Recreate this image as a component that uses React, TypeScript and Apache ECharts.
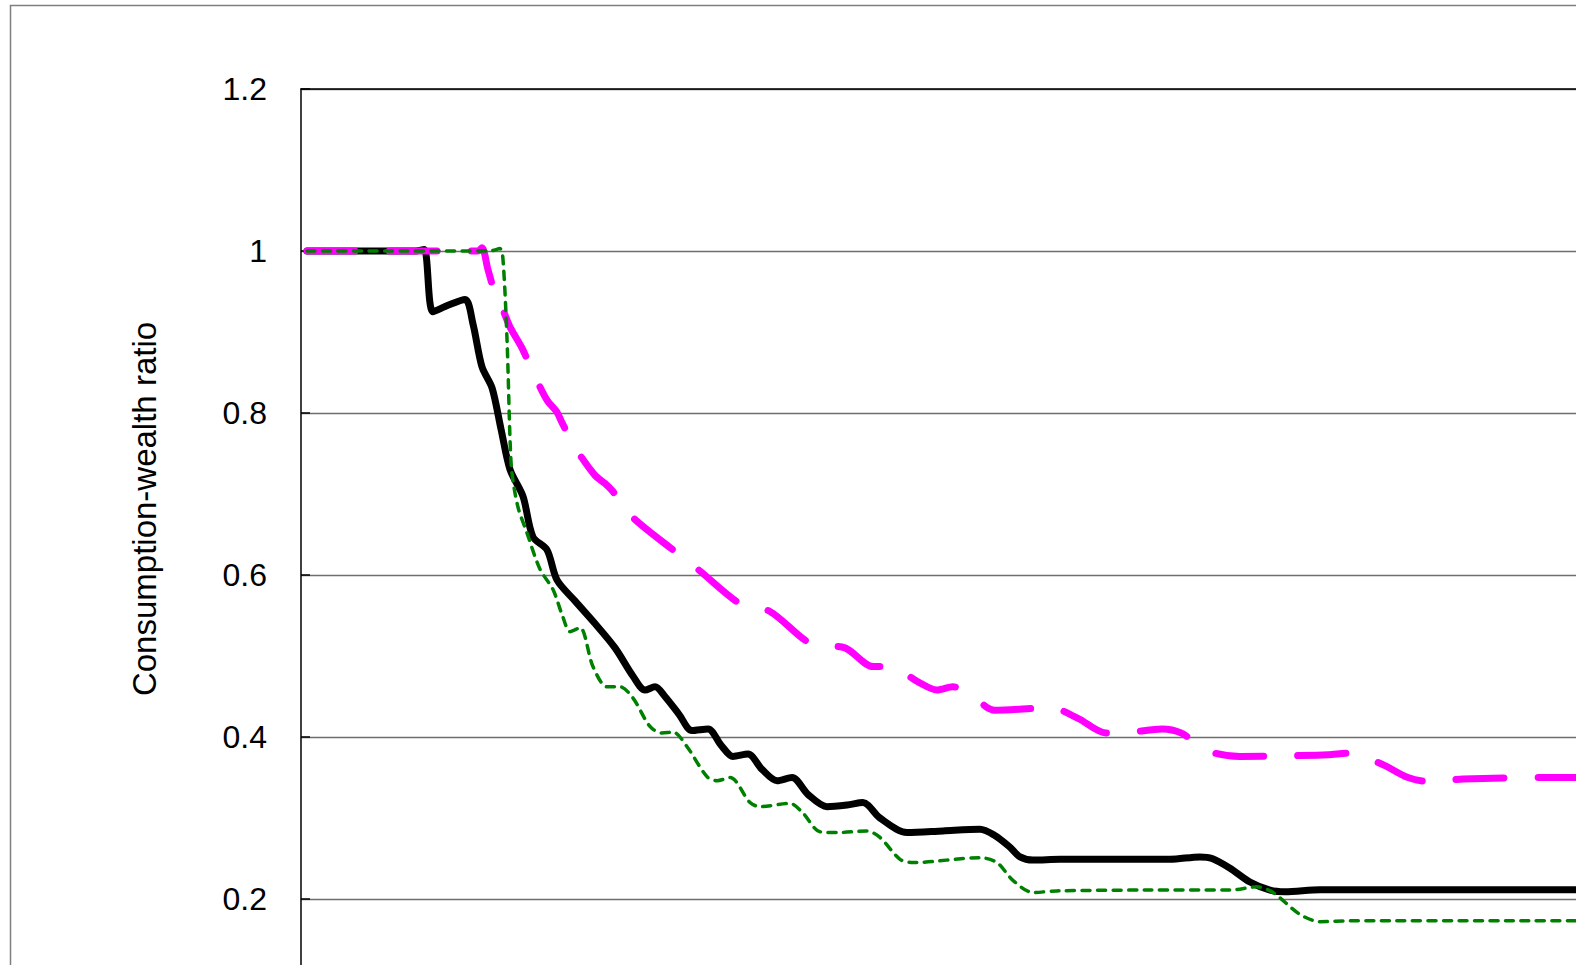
import React, { useEffect, useRef } from "react";
import * as echarts from "echarts";

// Period index (horizontal position) and consumption-wealth ratio for each curve
const solidT = [0, 5, 9, 9.75, 10.5, 11.75, 13.17, 13.83, 14.58, 15.42, 16.17, 16.92, 18.0, 18.83, 20.0, 20.83, 22.33, 24.0, 25.67, 27.17, 28.17, 29.0, 29.83, 31.0, 32.08, 33.42, 34.5, 35.5, 36.75, 37.92, 39.17, 40.42, 41.75, 43.33, 45.0, 46.33, 47.75, 50.0, 53.0, 56.08, 57.25, 58.5, 59.42, 60.5, 62.75, 66.08, 71.92, 74.42, 75.42, 76.92, 78.58, 80.25, 81.5, 84.42, 95, 112];
const solidRatio = [1.0, 1.0, 1.0, 1.002, 0.925, 0.933, 0.94, 0.91, 0.857, 0.831, 0.78, 0.73, 0.697, 0.647, 0.631, 0.594, 0.568, 0.54, 0.51, 0.475, 0.458, 0.462, 0.45, 0.428, 0.408, 0.41, 0.39, 0.376, 0.379, 0.36, 0.346, 0.35, 0.329, 0.314, 0.316, 0.319, 0.3, 0.282, 0.284, 0.286, 0.279, 0.265, 0.252, 0.248, 0.249, 0.249, 0.249, 0.252, 0.25, 0.238, 0.221, 0.211, 0.209, 0.2115, 0.2115, 0.2115];

const longDashT = [0, 7, 14.25, 14.58, 15.08, 15.83, 16.33, 16.92, 17.92, 19.0, 20.0, 20.83, 21.25, 22.58, 24.0, 24.83, 25.5, 27.08, 30.67, 32.58, 36.25, 38.58, 42.17, 44.83, 47.17, 48.58, 50.92, 52.5, 53.83, 55.25, 57.33, 62.0, 64.25, 66.58, 68.67, 71.25, 72.83, 75.25, 77.75, 82.42, 85.08, 86.83, 89.5, 91.75, 93.58, 96.33, 103.58, 112];
const longDashRatio = [1.0, 1.0, 1.0, 1.004, 0.977, 0.94, 0.927, 0.906, 0.88, 0.845, 0.816, 0.801, 0.788, 0.752, 0.723, 0.713, 0.703, 0.672, 0.629, 0.607, 0.563, 0.555, 0.514, 0.51, 0.487, 0.487, 0.468, 0.458, 0.462, 0.453, 0.433, 0.436, 0.423, 0.405, 0.406, 0.41, 0.405, 0.382, 0.376, 0.377, 0.378, 0.38, 0.367, 0.35, 0.345, 0.348, 0.35, 0.35];

const shortDashT = [0, 8, 15.25, 16.08, 16.33, 16.67, 16.92, 17.08, 17.58, 18.33, 19.42, 20.5, 21.33, 21.92, 22.75, 23.83, 25.0, 26.08, 27.17, 28.58, 29.58, 30.5, 31.67, 33.33, 34.17, 35.25, 36.92, 37.75, 40.25, 41.33, 42.75, 44.17, 46.67, 47.75, 49.42, 50.5, 56.08, 57.5, 58.83, 60.5, 62.5, 70, 76.92, 79.17, 80.5, 82.75, 84.42, 86.92, 100, 112];
const shortDashRatio = [1.0, 1.0, 1.0, 1.003, 0.99, 0.89, 0.767, 0.726, 0.684, 0.652, 0.607, 0.582, 0.548, 0.53, 0.535, 0.487, 0.462, 0.462, 0.448, 0.413, 0.405, 0.406, 0.388, 0.351, 0.346, 0.35, 0.319, 0.314, 0.318, 0.306, 0.283, 0.282, 0.284, 0.276, 0.249, 0.245, 0.251, 0.245, 0.223, 0.208, 0.21, 0.211, 0.211, 0.215, 0.208, 0.181, 0.172, 0.173, 0.173, 0.173];

const yTickMin = 0;
const yTickMax = 1.2;
const yTickStep = 0.2;
const yTitle = "Consumption-wealth ratio";

const pairs = (t: number[], v: number[]) => t.map((x, i) => [x, v[i]]);

const FONT = "'Liberation Sans', Arial, sans-serif";

export default function App() {
  const ref = useRef<HTMLDivElement>(null);

  useEffect(() => {
    document.body.style.margin = "0";
    document.body.style.overflow = "hidden";
    if (!ref.current) return;
    const chart = echarts.init(ref.current, undefined, { renderer: "svg" });
    chart.setOption({
      animation: false,
      backgroundColor: "#ffffff",
      grid: { left: 301, top: 89, width: 1416, height: 972 },
      xAxis: {
        type: "value",
        min: -0.5,
        max: 117.5,
        position: "top",
        axisLine: { show: true, onZero: false, lineStyle: { color: "#000", width: 1.5 } },
        axisTick: { show: false },
        axisLabel: { show: false },
        splitLine: { show: false },
      },
      yAxis: {
        type: "value",
        min: yTickMin,
        max: yTickMax,
        interval: yTickStep,
        axisLine: { show: true, onZero: false, lineStyle: { color: "#000", width: 1.5 } },
        axisTick: { show: true, inside: true, length: 9, lineStyle: { color: "#000", width: 1.5 } },
        axisLabel: { color: "#000", fontSize: 32, fontFamily: FONT, margin: 34, showMinLabel: false },
        splitLine: { show: true, lineStyle: { color: "#6e6e6e", width: 1.3 } },
      },
      graphic: [
        {
          type: "rect",
          z: -10,
          shape: { x: 10.5, y: 5.5, width: 1780, height: 1180 },
          style: { fill: "none", stroke: "#7f7f7f", lineWidth: 1.5 },
        },
        {
          type: "text",
          x: 144,
          y: 509,
          rotation: Math.PI / 2,
          style: {
            text: yTitle,
            fontSize: 33,
            fontFamily: FONT,
            fill: "#000",
            align: "center",
            verticalAlign: "middle",
          },
        },
      ],
      series: [
        {
          name: "Solid",
          type: "line",
          data: pairs(solidT, solidRatio),
          symbol: "none",
          smooth: 0.3,
          lineStyle: { color: "#000000", width: 7, cap: "round", join: "round" },
          z: 2,
        },
        {
          name: "Long dash",
          type: "line",
          data: pairs(longDashT, longDashRatio),
          symbol: "none",
          smooth: 0.3,
          lineStyle: { color: "#ff00ff", width: 7, type: [48, 34], cap: "round", join: "round" },
          z: 3,
        },
        {
          name: "Short dash",
          type: "line",
          data: pairs(shortDashT, shortDashRatio),
          symbol: "none",
          smooth: 0.3,
          lineStyle: { color: "#008000", width: 3.5, type: [8, 7.5], cap: "round", join: "round" },
          z: 4,
        },
      ],
    });
    return () => chart.dispose();
  }, []);

  return (
    <div
      style={{
        position: "fixed",
        left: 0,
        top: 0,
        width: 1576,
        height: 965,
        overflow: "hidden",
        background: "#fff",
      }}
    >
      <div ref={ref} style={{ width: 1800, height: 1200 }} />
    </div>
  );
}
